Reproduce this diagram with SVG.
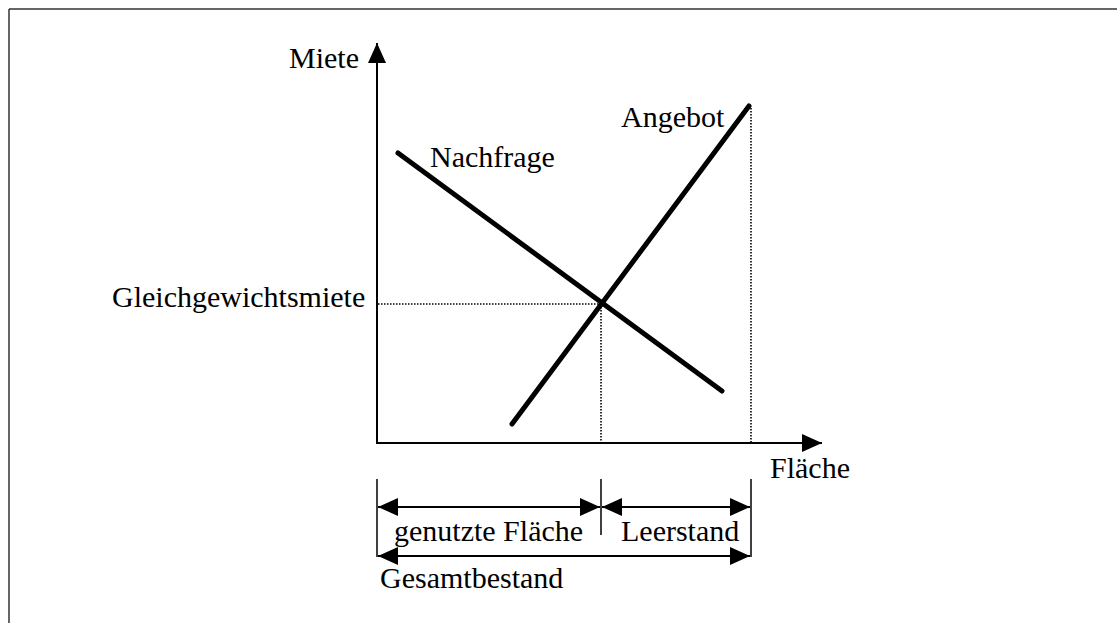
<svg xmlns="http://www.w3.org/2000/svg" width="1117" height="623" viewBox="0 0 1117 623">
<style>
text{font-family:"Liberation Serif","Times New Roman",serif;font-size:30px;fill:#000}
.axis{stroke:#000;stroke-width:2;fill:none}
.curve{stroke:#000;stroke-width:5;stroke-linecap:round;fill:none}
.dot{stroke:#000;stroke-width:1.6;stroke-dasharray:1.5 1.5;fill:none}
.tick{stroke:#000;stroke-width:1.5;fill:none}
.dim{stroke:#000;stroke-width:2;fill:none}
</style>
<defs>
<marker id="ah" markerUnits="userSpaceOnUse" markerWidth="20" markerHeight="18" refX="20" refY="9" orient="auto-start-reverse" viewBox="0 0 20 18">
<path d="M0,0 L20,9 L0,18 z" fill="#000"/>
</marker>
</defs>
<rect width="1117" height="623" fill="#fff"/>
<g id="frame">
<line x1="9" y1="9" x2="1117" y2="9" stroke="#333" stroke-width="1.5"/>
<line x1="9" y1="9" x2="9" y2="623" stroke="#333" stroke-width="1.5"/>
</g>
<g id="connectors">
<line class="axis" x1="377" y1="444" x2="377" y2="43" marker-end="url(#ah)"/>
<line class="axis" x1="376" y1="443" x2="822" y2="443" marker-end="url(#ah)"/>
<line class="dot" x1="378" y1="304" x2="601" y2="304"/>
<line class="dot" x1="601" y1="304" x2="601" y2="442"/>
<line class="dot" x1="751" y1="108" x2="751" y2="442"/>
<line class="tick" x1="377" y1="479" x2="377" y2="557"/>
<line class="tick" x1="601" y1="479" x2="601" y2="535"/>
<line class="tick" x1="751" y1="479" x2="751" y2="557"/>
<line class="dim" x1="378" y1="507" x2="600" y2="507" marker-start="url(#ah)" marker-end="url(#ah)"/>
<line class="dim" x1="602" y1="507" x2="750" y2="507" marker-start="url(#ah)" marker-end="url(#ah)"/>
<line class="dim" x1="378" y1="556" x2="750" y2="556" marker-start="url(#ah)" marker-end="url(#ah)"/>
</g>
<g id="nachfrage">
<line class="curve" x1="398" y1="153" x2="722" y2="391"/>
<text x="430" y="167">Nachfrage</text>
</g>
<g id="angebot">
<line class="curve" x1="512" y1="424" x2="749" y2="106"/>
<text x="621" y="127">Angebot</text>
</g>
<g id="miete"><text x="289" y="68">Miete</text></g>
<g id="gleichgewicht"><text x="112" y="307">Gleichgewichtsmiete</text></g>
<g id="flaeche"><text x="770" y="478">Fläche</text></g>
<g id="genutzt"><text x="394" y="541">genutzte Fläche</text></g>
<g id="leerstand"><text x="621" y="541">Leerstand</text></g>
<g id="gesamt"><text x="380" y="588">Gesamtbestand</text></g>
</svg>
